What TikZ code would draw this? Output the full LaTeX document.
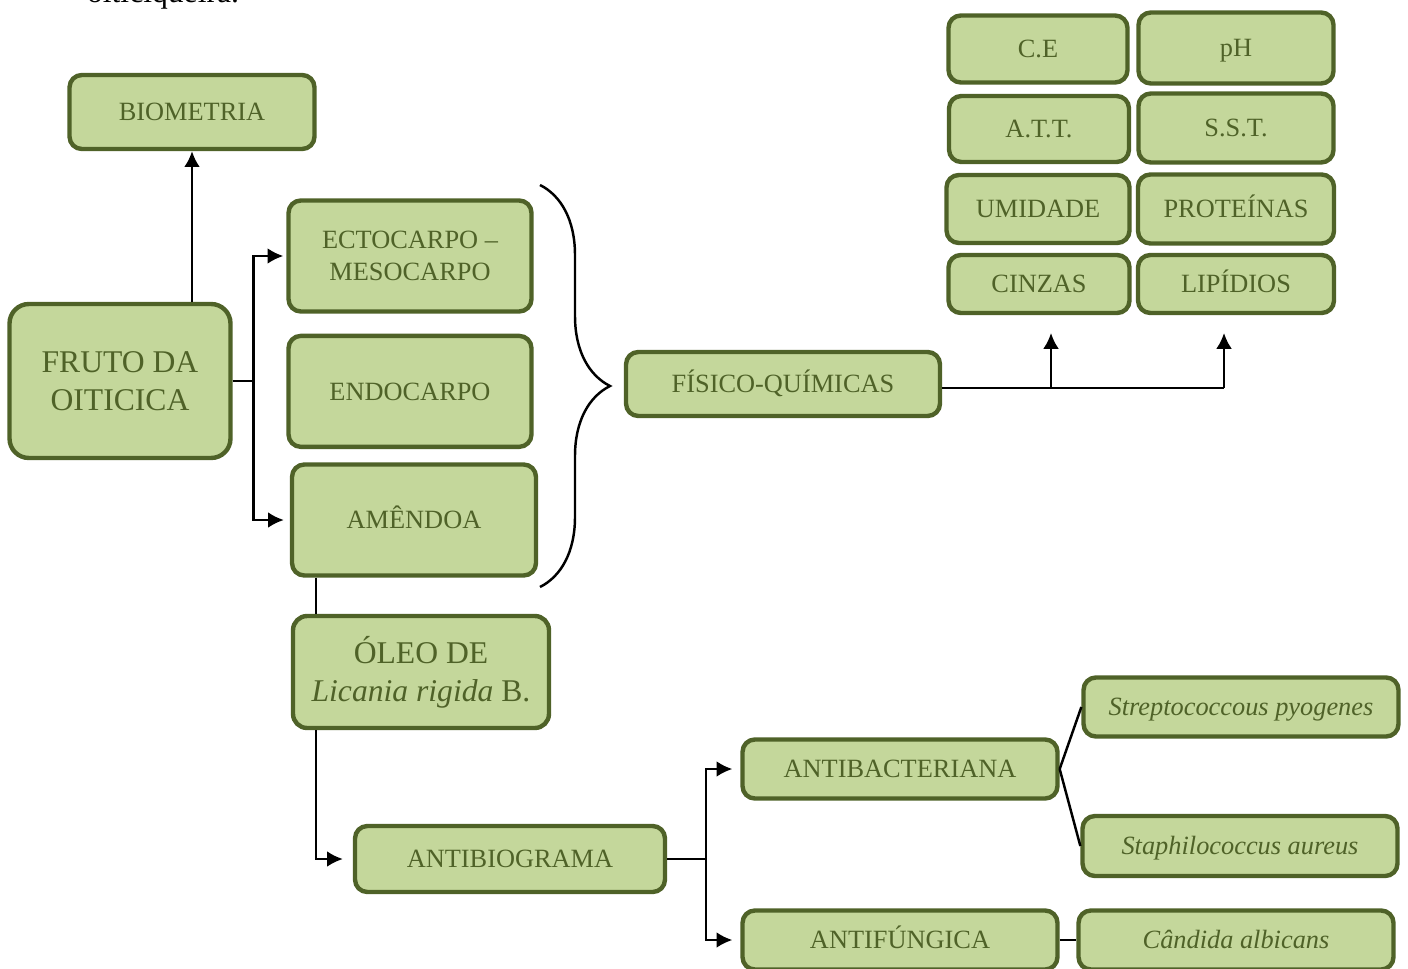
\documentclass[tikz,border=0pt]{standalone}
\usepackage{fontspec}
\setmainfont{Liberation Serif}
\usetikzlibrary{positioning}
\usetikzlibrary{arrows.meta}
\usetikzlibrary{decorations.pathreplacing}
\definecolor{verdeescuro}{RGB}{79,98,40}
\definecolor{verdeclaro}{RGB}{196,215,155}
\begin{document}
\begin{tikzpicture}[x=0.02cm,y=-0.02cm,>={Latex[length=9pt,width=9pt]},line width=1.4pt,
  caixa/.style={draw=verdeescuro,fill=verdeclaro,line width=2.5pt,rounded corners=7pt,text=verdeescuro,align=center,inner sep=2pt,font=\fontsize{15}{18}\selectfont},
  caixa1/.style={caixa,text height=9.9pt,text depth=0pt},
  caixag/.style={caixa,rounded corners=11pt,font=\fontsize{18}{21.5}\selectfont}]
\path[use as bounding box] (0,0) rectangle (1408,969);
\node[anchor=base west,font=\fontsize{18}{21}\selectfont] (leg) at (80,3) {oiticiqueira.};
\node[caixa1,minimum width=4.9cm,minimum height=1.48cm] (bio) at (192,112) {BIOMETRIA};
\node[caixag,minimum width=4.42cm,minimum height=3.08cm] (fruto) at (120,381) {FRUTO DA\\OITICICA};
\node[caixa,minimum width=4.86cm,minimum height=2.22cm] (ecto) at (410,256) {ECTOCARPO –\\MESOCARPO};
\node[caixa1,minimum width=4.86cm,minimum height=2.22cm,below=0.4cm of ecto] (endo) {ENDOCARPO};
\node[caixa1,minimum width=4.88cm,minimum height=2.22cm] (amen) at (414,520) {AMÊNDOA};
\node[caixag,rounded corners=8pt,minimum width=5.12cm,minimum height=2.24cm] (oleo) at (421,672) {ÓLEO DE\\\textit{Licania rigida} B.};
\node[caixa1,minimum width=6.28cm,minimum height=1.28cm] (fq) at (783,384) {FÍSICO-QUÍMICAS};
\node[caixa1,minimum width=3.58cm,minimum height=1.34cm] (ce) at (1038,49) {C.E};
\node[caixa1,minimum width=3.9cm,minimum height=1.42cm] (ph) at (1236,48) {pH};
\node[caixa1,minimum width=3.6cm,minimum height=1.32cm] (att) at (1039,129) {A.T.T.};
\node[caixa1,minimum width=3.9cm,minimum height=1.38cm] (sst) at (1236,128) {S.S.T.};
\node[caixa1,minimum width=3.66cm,minimum height=1.36cm] (umi) at (1038,209) {UMIDADE};
\node[caixa1,minimum width=3.92cm,minimum height=1.38cm] (prot) at (1236,209) {PROTEÍNAS};
\node[caixa1,minimum width=3.62cm,minimum height=1.16cm] (cinz) at (1039,284) {CINZAS};
\node[caixa1,minimum width=3.92cm,minimum height=1.16cm] (lip) at (1236,284) {LIPÍDIOS};
\node[caixa1,minimum width=6.2cm,minimum height=1.32cm] (atbg) at (510,859) {ANTIBIOGRAMA};
\node[caixa1,minimum width=6.3cm,minimum height=1.18cm] (abac) at (900,769) {ANTIBACTERIANA};
\node[caixa1,minimum width=6.3cm,minimum height=1.18cm] (afun) at (900,940) {ANTIFÚNGICA};
\node[caixa1,minimum width=6.3cm,minimum height=1.18cm] (strep) at (1241,707) {\textit{Streptococcous pyogenes}};
\node[caixa1,minimum width=6.3cm,minimum height=1.2cm] (staph) at (1240,846) {\textit{Staphilococcus aureus}};
\node[caixa1,minimum width=6.3cm,minimum height=1.18cm] (cand) at (1236,940) {\textit{Cândida albicans}};
\coordinate (chT) at (540,185);
\coordinate (chB) at (540,587);
\coordinate (up1) at (1051,333);
\coordinate (up2) at (1224,333);
\draw[->] (bio.south |- fruto.north) -- (bio.south);
\draw[->] (fruto.east) -- ++(21,0) coordinate (f1) |- ([xshift=-0.06cm]ecto.west);
\draw[->] (f1) |- ([xshift=-0.12cm]amen.west);
\draw[decorate,decoration={brace,amplitude=1.4cm}] (chT) -- (chB);
\draw ([yshift=-0.08cm]fq.east) -- ([yshift=-0.08cm]fq.east -| up2);
\draw[->] ([yshift=-0.08cm]fq.east -| up1) -- (up1);
\draw[->] ([yshift=-0.08cm]fq.east -| up2) -- (up2);
\draw (amen.south west) ++(26,0) coordinate (a1) -- (a1 |- oleo.north);
\draw[->,shorten >=0.2cm] (oleo.south west) ++(25,0) |- (atbg.west);
\draw[->,shorten >=0.16cm] (atbg.east) -- ++(39,0) coordinate (b1) |- (abac.west);
\draw[->,shorten >=0.16cm] (b1) |- (afun.west);
\draw (abac.east) -- (strep.west);
\draw (abac.east) -- (staph.west);
\draw (afun.east) -- (cand.west);
\end{tikzpicture}
\end{document}
